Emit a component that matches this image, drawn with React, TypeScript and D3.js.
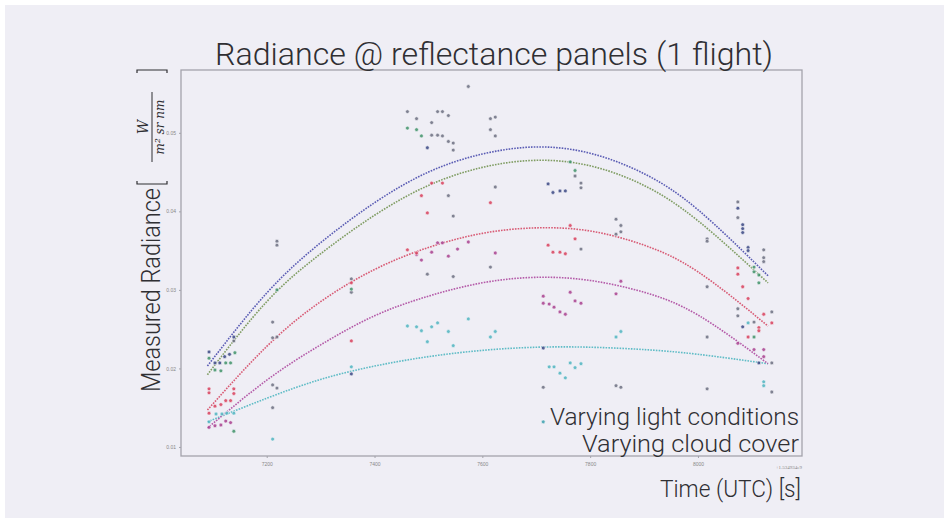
import { useEffect, useRef } from "react";
import * as d3 from "d3";

// fit curves, sampled at these times (s, offset +1.534934e9)
const fitTimes = [7090, 7200, 7300, 7400, 7500, 7600, 7700, 7800, 7900, 8000, 8130];
const fitBlue = [0.0203, 0.0296, 0.036, 0.0411, 0.045, 0.0473, 0.0482, 0.0474, 0.0448, 0.0402, 0.0318];
const fitGreen = [0.0192, 0.0285, 0.0346, 0.0395, 0.0433, 0.0456, 0.0465, 0.0458, 0.0433, 0.0388, 0.0309];
const fitRed = [0.0147, 0.0228, 0.0285, 0.0326, 0.0354, 0.0372, 0.0379, 0.0375, 0.0357, 0.0323, 0.0254];
const fitMagenta = [0.0124, 0.0185, 0.023, 0.0267, 0.0292, 0.0309, 0.0316, 0.0312, 0.0297, 0.0268, 0.0206];
const fitCyan = [0.0132, 0.0162, 0.0186, 0.0203, 0.0215, 0.0223, 0.0227, 0.0227, 0.0224, 0.0218, 0.0206];

// measured points [time, radiance]
const ptsBlue = [
  [7093, 0.0221], [7104, 0.0207], [7113, 0.0207], [7122, 0.0215], [7131, 0.0218], [7139, 0.024],
  [7357, 0.0193], [7722, 0.0435], [7731, 0.0424], [7744, 0.0426], [7754, 0.0426], [8074, 0.0404],
  [8083, 0.0383], [8083, 0.0378], [8083, 0.0373], [8093, 0.0354], [8093, 0.035], [8083, 0.0253],
  [8113, 0.0207], [7498, 0.0481], [7713, 0.0226],
];
const ptsGreen = [
  [7093, 0.0213], [7104, 0.0198], [7115, 0.0197], [7124, 0.0207], [7133, 0.0207], [7141, 0.022],
  [7139, 0.012], [7219, 0.03], [7357, 0.0301], [7461, 0.0506], [7478, 0.0504], [7487, 0.0496],
  [7763, 0.0463], [7772, 0.0452], [8104, 0.0329], [8104, 0.0323], [8113, 0.0319], [8113, 0.0309],
  [8104, 0.024],
];
const ptsRed = [
  [7093, 0.0169], [7093, 0.0174], [7104, 0.0152], [7115, 0.0154], [7124, 0.0159], [7133, 0.0159],
  [7139, 0.0174], [7139, 0.0168], [7093, 0.0143], [7357, 0.0309], [7357, 0.0235], [7461, 0.0351],
  [7478, 0.0347], [7506, 0.0436], [7526, 0.0436], [7487, 0.042], [7615, 0.0411], [7498, 0.0398],
  [7763, 0.0382], [7772, 0.0365], [7722, 0.0357], [7731, 0.0348], [7744, 0.0348], [7754, 0.0346],
  [8074, 0.0328], [8074, 0.032], [8083, 0.0304], [8093, 0.0289], [8122, 0.0269], [8113, 0.0252],
  [8113, 0.0248], [8093, 0.024], [8137, 0.0258],
];
const ptsMagenta = [
  [7093, 0.0125], [7104, 0.0127], [7115, 0.0128], [7124, 0.0133], [7133, 0.0131], [7713, 0.0292],
  [7713, 0.0283], [7724, 0.0282], [7733, 0.0278], [7744, 0.0272], [7754, 0.0269], [7763, 0.0297],
  [7772, 0.0286], [7783, 0.0283], [7857, 0.0311], [7848, 0.0295], [7478, 0.0345], [7487, 0.0338],
  [7506, 0.0348], [7537, 0.0343], [7554, 0.0352], [7517, 0.036], [7526, 0.036], [7574, 0.0361],
  [7624, 0.0347], [8104, 0.0224], [8122, 0.0224], [8122, 0.0215], [8074, 0.0232],
];
const ptsCyan = [
  [7093, 0.0132], [7106, 0.0142], [7117, 0.0142], [7126, 0.0143], [7139, 0.0143], [7357, 0.0202],
  [7461, 0.0254], [7478, 0.0253], [7487, 0.0248], [7506, 0.0253], [7517, 0.0258], [7537, 0.0247],
  [7574, 0.0263], [7498, 0.0234], [7546, 0.0229], [7615, 0.024], [7624, 0.0247], [7857, 0.0247],
  [7848, 0.024], [7724, 0.0202], [7733, 0.0202], [7744, 0.0194], [7754, 0.0188], [7763, 0.0207],
  [7772, 0.0201], [7783, 0.0206], [8093, 0.0258], [8122, 0.0183], [8122, 0.0178], [7211, 0.011],
  [7713, 0.0132],
];
const ptsGray = [
  [7139, 0.0235], [7211, 0.0259], [7211, 0.0239], [7219, 0.024], [7211, 0.0179], [7219, 0.0175],
  [7211, 0.015], [7219, 0.0362], [7219, 0.0357], [7357, 0.0314], [7357, 0.0297], [7574, 0.0559],
  [7461, 0.0527], [7478, 0.0518], [7517, 0.0527], [7526, 0.0527], [7537, 0.0522], [7506, 0.0513],
  [7506, 0.0497], [7517, 0.0497], [7526, 0.0496], [7537, 0.0489], [7546, 0.0487], [7546, 0.0478],
  [7615, 0.0518], [7624, 0.052], [7615, 0.0504], [7624, 0.0496], [7772, 0.0445], [7783, 0.0436],
  [7783, 0.043], [7537, 0.042], [7624, 0.0431], [7546, 0.0394], [7783, 0.0352], [7848, 0.039],
  [7857, 0.0382], [7857, 0.0374], [7848, 0.0371], [7615, 0.0329], [7498, 0.032], [7546, 0.0317],
  [7713, 0.0176], [7848, 0.0178], [7857, 0.0176], [8074, 0.0412], [8074, 0.0392], [8017, 0.0365],
  [8017, 0.0362], [8122, 0.0351], [8122, 0.0341], [8122, 0.0336], [8017, 0.0304], [8074, 0.0276],
  [8074, 0.0267], [8104, 0.0259], [8017, 0.024], [8137, 0.0272], [8137, 0.0207], [8017, 0.0174],
  [8137, 0.017], [7713, 0.0132],
];

const xTicks = [7200, 7400, 7600, 7800, 8000];
const yTicks = [0.01, 0.02, 0.03, 0.04, 0.05];

const fits = [
  { values: fitCyan, color: "#5fbcc6" },
  { values: fitMagenta, color: "#b45aa8" },
  { values: fitRed, color: "#d85a74" },
  { values: fitGreen, color: "#7f9c62" },
  { values: fitBlue, color: "#5a5cb4" },
];
const groups = [
  { pts: ptsGray, color: "#6c6e80" },
  { pts: ptsCyan, color: "#4fb4c0" },
  { pts: ptsMagenta, color: "#a8408e" },
  { pts: ptsRed, color: "#d8405c" },
  { pts: ptsGreen, color: "#3f9268" },
  { pts: ptsBlue, color: "#3a4682" },
];

const font = "Roboto, 'Liberation Sans', sans-serif";

export default function App() {
  const ref = useRef<SVGSVGElement>(null);

  useEffect(() => {
    const svg = d3.select(ref.current);
    svg.selectAll("*").remove();
    const left = 181, right = 802, top = 70, bottom = 456;

    const x = d3.scaleLinear().domain([7041, 8193]).range([left, right]);
    const y = d3.scaleLinear().domain([0.00885, 0.058]).range([bottom, top]);

    svg.append("rect").attr("x", 5).attr("y", 5).attr("width", 939).attr("height", 513).attr("fill", "#efeef5");

    // frame
    svg
      .append("rect")
      .attr("x", left)
      .attr("y", top)
      .attr("width", right - left)
      .attr("height", bottom - top)
      .attr("fill", "none")
      .attr("stroke", "#a3a3ab")
      .attr("stroke-width", 1.3);

    svg
      .append("g")
      .attr("transform", `translate(0,${bottom})`)
      .call(d3.axisBottom(x).tickValues(xTicks).tickFormat(d3.format("d")).tickSize(2))
      .call((g) => g.select(".domain").remove())
      .call((g) => g.selectAll("line").attr("stroke", "#a3a3ab"))
      .call((g) => g.selectAll("text").attr("fill", "#888").style("font-size", "5px").attr("dy", "0.9em"));

    svg
      .append("g")
      .attr("transform", `translate(${left},0)`)
      .call(d3.axisLeft(y).tickValues(yTicks).tickFormat(d3.format(".2f")).tickSize(2))
      .call((g) => g.select(".domain").remove())
      .call((g) => g.selectAll("line").attr("stroke", "#a3a3ab"))
      .call((g) => g.selectAll("text").attr("fill", "#888").style("font-size", "5px"));

    svg
      .append("text")
      .attr("x", right)
      .attr("y", 469)
      .attr("text-anchor", "end")
      .attr("fill", "#888")
      .style("font-size", "5px")
      .text("+1.534934e9");

    const line = d3
      .line<number>()
      .x((_, i) => x(fitTimes[i]))
      .y((d) => y(d))
      .curve(d3.curveNatural);

    fits.forEach((f) => {
      svg
        .append("path")
        .datum(f.values)
        .attr("d", line)
        .attr("fill", "none")
        .attr("stroke", f.color)
        .attr("stroke-width", 1.6)
        .attr("stroke-dasharray", "1.6 1.2");
    });

    groups.forEach((gr) => {
      svg
        .append("g")
        .selectAll("circle")
        .data(gr.pts)
        .join("circle")
        .attr("cx", (d) => x(d[0]))
        .attr("cy", (d) => y(d[1]))
        .attr("r", 1.9)
        .attr("fill", gr.color)
        .attr("fill-opacity", 0.85)
        .attr("stroke", "#f4f4f8")
        .attr("stroke-width", 0.6);
    });

    const txt = (sel: any) => sel.attr("fill", "#2f2f33").style("font-family", font).style("font-weight", 300);

    svg
      .append("text")
      .attr("x", 494)
      .attr("y", 65)
      .attr("text-anchor", "middle")
      .attr("textLength", 558)
      .attr("lengthAdjust", "spacingAndGlyphs")
      .style("font-size", "31px")
      .call(txt)
      .text("Radiance @ reflectance panels (1 flight)");

    svg
      .append("text")
      .attr("x", 799)
      .attr("y", 425)
      .attr("text-anchor", "end")
      .attr("textLength", 249)
      .attr("lengthAdjust", "spacingAndGlyphs")
      .style("font-size", "23px")
      .call(txt)
      .text("Varying light conditions");

    svg
      .append("text")
      .attr("x", 799)
      .attr("y", 452)
      .attr("text-anchor", "end")
      .attr("textLength", 217)
      .attr("lengthAdjust", "spacingAndGlyphs")
      .style("font-size", "23px")
      .call(txt)
      .text("Varying cloud cover");

    svg
      .append("text")
      .attr("x", 801)
      .attr("y", 497)
      .attr("text-anchor", "end")
      .attr("textLength", 141)
      .attr("lengthAdjust", "spacingAndGlyphs")
      .style("font-size", "23px")
      .call(txt)
      .text("Time (UTC) [s]");

    // y label (rotated)
    const yl = svg.append("g").attr("transform", "rotate(-90)");
    yl.append("text")
      .attr("x", -392)
      .attr("y", 160)
      .attr("textLength", 204)
      .attr("lengthAdjust", "spacingAndGlyphs")
      .style("font-size", "25px")
      .call(txt)
      .text("Measured Radiance");

    const math = (sel: any) =>
      sel.attr("fill", "#2f2f33").style("font-family", "'DejaVu Serif', serif").style("font-style", "italic");
    yl.append("text")
      .attr("x", -127)
      .attr("y", 148)
      .attr("text-anchor", "middle")
      .style("font-size", "14px")
      .call(math)
      .text("W");
    yl.append("line")
      .attr("x1", -162)
      .attr("x2", -92)
      .attr("y1", 152)
      .attr("y2", 152)
      .attr("stroke", "#2f2f33")
      .attr("stroke-width", 1);
    yl.append("text")
      .attr("x", -127)
      .attr("y", 164)
      .attr("text-anchor", "middle")
      .style("font-size", "12px")
      .call(math)
      .text("m² sr nm");
    const br = "#2f2f33";
    yl.append("path")
      .attr("d", "M-181,137 L-184,137 L-184,167 L-181,167")
      .attr("fill", "none")
      .attr("stroke", br)
      .attr("stroke-width", 1.2);
    yl.append("path")
      .attr("d", "M-73,137 L-70,137 L-70,167 L-73,167")
      .attr("fill", "none")
      .attr("stroke", br)
      .attr("stroke-width", 1.2);
  }, []);

  return (
    <svg
      ref={ref}
      width={949}
      height={523}
      style={{ position: "absolute", left: 0, top: 0, background: "#ffffff" }}
      role="img"
      aria-label="Radiance at reflectance panels"
    />
  );
}
